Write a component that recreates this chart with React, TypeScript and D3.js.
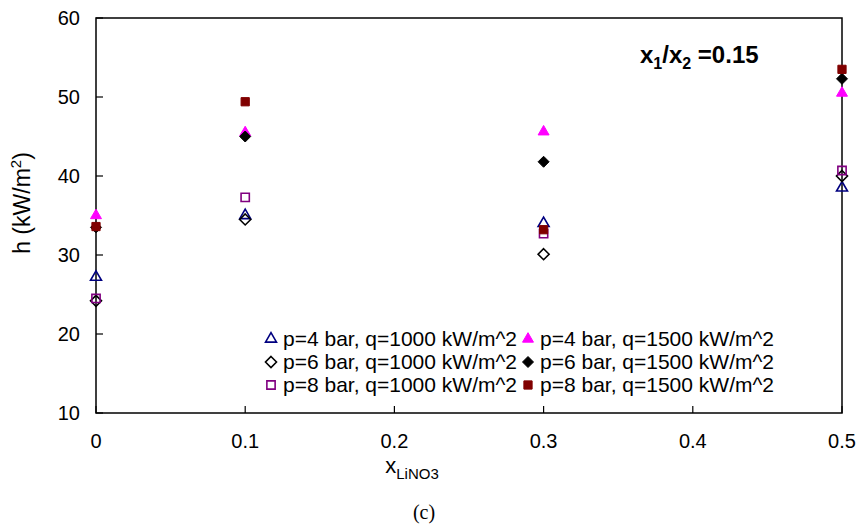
import React, { useEffect, useRef } from 'react';
import * as d3 from 'd3';

// x positions (mass fraction of LiNO3)
const xValues = [0, 0.1, 0.3, 0.5];

// heat transfer coefficient h (kW/m^2), one array per series
const p4q1000 = [27.2, 35.0, 34.0, 38.5];
const p6q1000 = [24.2, 34.5, 30.1, 40.0];
const p8q1000 = [24.5, 37.3, 32.7, 40.7];
const p4q1500 = [35.0, 45.5, 45.6, 50.5];
const p6q1500 = [33.5, 45.0, 41.8, 52.3];
const p8q1500 = [33.6, 49.4, 33.2, 53.5];

const xTicks = [0, 0.1, 0.2, 0.3, 0.4, 0.5];
const yTicks = [10, 20, 30, 40, 50, 60];

const series = [
  { name: 'p=4 bar, q=1000 kW/m^2', values: p4q1000, shape: 'triangle', color: '#000080', filled: false },
  { name: 'p=6 bar, q=1000 kW/m^2', values: p6q1000, shape: 'diamond', color: '#000000', filled: false },
  { name: 'p=8 bar, q=1000 kW/m^2', values: p8q1000, shape: 'square', color: '#800080', filled: false },
  { name: 'p=4 bar, q=1500 kW/m^2', values: p4q1500, shape: 'triangle', color: '#ff00ff', filled: true },
  { name: 'p=6 bar, q=1500 kW/m^2', values: p6q1500, shape: 'diamond', color: '#000000', filled: true },
  { name: 'p=8 bar, q=1500 kW/m^2', values: p8q1500, shape: 'square', color: '#800000', filled: true },
];

const symbolFor = (shape: string) => {
  if (shape === 'triangle') return d3.symbol().type(d3.symbolTriangle).size(52)();
  if (shape === 'square') return d3.symbol().type(d3.symbolSquare).size(68)();
  return 'M0,-5.5L5.5,0L0,5.5L-5.5,0Z';
};

const App = () => {
  const ref = useRef<SVGSVGElement | null>(null);

  useEffect(() => {
    const svg = d3.select(ref.current);
    svg.selectAll('*').remove();

    const left = 96, right = 842, top = 18, bottom = 413;
    const font = 'Liberation Sans, Arial, sans-serif';

    const x = d3.scaleLinear().domain([0, 0.5]).range([left, right]);
    const y = d3.scaleLinear().domain([10, 60]).range([bottom, top]);

    // plot frame
    svg.append('rect')
      .attr('x', left).attr('y', top)
      .attr('width', right - left).attr('height', bottom - top)
      .attr('fill', 'none').attr('stroke', '#000').attr('stroke-width', 1.5);

    // y ticks (inside)
    const gy = svg.append('g').attr('transform', `translate(${left},0)`);
    gy.selectAll('line').data(yTicks).enter().append('line')
      .attr('x1', 0).attr('x2', 7)
      .attr('y1', (d) => y(d)).attr('y2', (d) => y(d))
      .attr('stroke', '#000').attr('stroke-width', 1.2);
    gy.selectAll('text').data(yTicks).enter().append('text')
      .attr('x', -16).attr('y', (d) => y(d) + 7)
      .attr('text-anchor', 'end')
      .style('font-family', font).style('font-size', '20px')
      .text((d) => d);

    // x ticks (inside)
    const gx = svg.append('g').attr('transform', `translate(0,${bottom})`);
    gx.selectAll('line').data(xTicks).enter().append('line')
      .attr('x1', (d) => x(d)).attr('x2', (d) => x(d))
      .attr('y1', 0).attr('y2', -7)
      .attr('stroke', '#000').attr('stroke-width', 1.2);
    gx.selectAll('text').data(xTicks).enter().append('text')
      .attr('x', (d) => x(d)).attr('y', 35)
      .attr('text-anchor', 'middle')
      .style('font-family', font).style('font-size', '20px')
      .text((d) => d);

    // axis titles
    const xl = svg.append('text')
      .attr('x', 412).attr('y', 473)
      .attr('text-anchor', 'middle')
      .style('font-family', font).style('font-size', '22px');
    xl.append('tspan').text('x');
    xl.append('tspan').attr('dy', 6).style('font-size', '15px').text('LiNO3');

    const yl = svg.append('text')
      .attr('transform', 'translate(30,203) rotate(-90)')
      .attr('text-anchor', 'middle')
      .style('font-family', font).style('font-size', '23px');
    yl.append('tspan').text('h (kW/m');
    yl.append('tspan').attr('dy', -9).style('font-size', '15px').text('2');
    yl.append('tspan').attr('dy', 9).text(')');

    // annotation
    const ann = svg.append('text')
      .attr('x', 640).attr('y', 63)
      .style('font-family', font).style('font-size', '24px').style('font-weight', 'bold');
    ann.append('tspan').text('x');
    ann.append('tspan').attr('dy', 6).style('font-size', '16px').text('1');
    ann.append('tspan').attr('dy', -6).text('/x');
    ann.append('tspan').attr('dy', 6).style('font-size', '16px').text('2');
    ann.append('tspan').attr('dy', -6).text(' =0.15');

    // markers
    series.forEach((s) => {
      svg.append('g').selectAll('path').data(s.values).enter().append('path')
        .attr('d', symbolFor(s.shape))
        .attr('transform', (d, i) => `translate(${x(xValues[i])},${y(d)})`)
        .attr('fill', s.filled ? s.color : 'none')
        .attr('stroke', s.color)
        .attr('stroke-width', s.filled ? 1 : 1.6);
    });

    // legend
    const legend = svg.append('g');
    series.forEach((s, i) => {
      const col = Math.floor(i / 3);
      const row = i % 3;
      const lx = col === 0 ? 271 : 528;
      const ly = 339 + row * 23;
      legend.append('path')
        .attr('d', symbolFor(s.shape))
        .attr('transform', `translate(${lx},${ly})`)
        .attr('fill', s.filled ? s.color : 'none')
        .attr('stroke', s.color)
        .attr('stroke-width', s.filled ? 1 : 1.6);
      legend.append('text')
        .attr('x', lx + 12).attr('y', ly + 7)
        .style('font-family', font).style('font-size', '21px')
        .text(s.name);
    });

    // figure caption
    svg.append('text')
      .attr('x', 424).attr('y', 519)
      .attr('text-anchor', 'middle')
      .style('font-family', 'Liberation Serif, Times New Roman, serif').style('font-size', '20px')
      .text('(c)');
  }, []);

  return (
    <svg ref={ref} width={859} height={528} style={{ position: 'absolute', left: 0, top: 0, background: '#fff' }} />
  );
};

export default App;
